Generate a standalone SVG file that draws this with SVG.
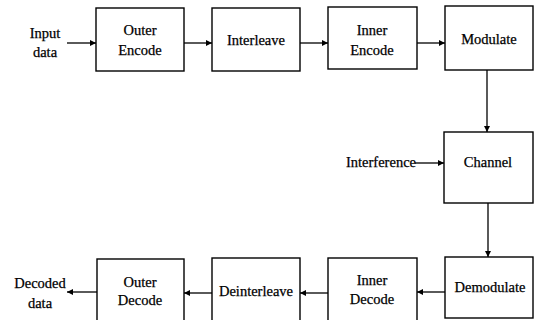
<svg xmlns="http://www.w3.org/2000/svg" width="535" height="320" viewBox="0 0 535 320">
<style>
.box{fill:#fff;stroke:#000;stroke-width:1.4}
.t{font-family:"Liberation Serif","Times New Roman",serif;font-size:14.5px;fill:#000;stroke:#000;stroke-width:0.25;text-anchor:middle}
.c{stroke:#000;stroke-width:1.3;fill:none;marker-end:url(#ah)}
</style>
<defs>
<marker id="ah" viewBox="0 0 10 10" refX="10" refY="5" markerWidth="7" markerHeight="6" markerUnits="userSpaceOnUse" orient="auto">
<path d="M0,0 L10,5 L0,10 z" fill="#000"/>
</marker>
</defs>
<rect width="535" height="320" fill="#fff"/>
<g id="input"><text class="t" x="45" y="38">Input</text><text class="t" x="45" y="57">data</text></g>
<g id="outer-encode"><rect class="box" x="96" y="8" width="88" height="63"/><text class="t" x="140" y="35">Outer</text><text class="t" x="140" y="55">Encode</text></g>
<g id="interleave"><rect class="box" x="212" y="8" width="88" height="63"/><text class="t" x="256" y="45">Interleave</text></g>
<g id="inner-encode"><rect class="box" x="328" y="7" width="89" height="62"/><text class="t" x="372" y="35">Inner</text><text class="t" x="372" y="55">Encode</text></g>
<g id="modulate"><rect class="box" x="445" y="6" width="88" height="64"/><text class="t" x="489" y="44">Modulate</text></g>
<g id="interference"><text class="t" x="381" y="167">Interference</text></g>
<g id="channel"><rect class="box" x="444" y="132" width="89" height="71"/><text class="t" x="488" y="167">Channel</text></g>
<g id="demodulate"><rect class="box" x="445" y="257" width="88" height="61"/><text class="t" x="490" y="292">Demodulate</text></g>
<g id="inner-decode"><rect class="box" x="328" y="258" width="89" height="64"/><text class="t" x="372" y="285">Inner</text><text class="t" x="372" y="304">Decode</text></g>
<g id="deinterleave"><rect class="box" x="212" y="258" width="88" height="64"/><text class="t" x="256" y="296">Deinterleave</text></g>
<g id="outer-decode"><rect class="box" x="97" y="259" width="87" height="63"/><text class="t" x="140" y="287">Outer</text><text class="t" x="140" y="305">Decode</text></g>
<g id="decoded"><text class="t" x="40" y="288">Decoded</text><text class="t" x="40" y="308">data</text></g>
<g id="connectors">
<line class="c" x1="67" y1="43" x2="96" y2="43"/>
<line class="c" x1="184" y1="43" x2="212" y2="43"/>
<line class="c" x1="300" y1="43" x2="328" y2="43"/>
<line class="c" x1="417" y1="43" x2="445" y2="43"/>
<line class="c" x1="487" y1="70" x2="487" y2="132"/>
<line class="c" x1="415" y1="163" x2="444" y2="163"/>
<line class="c" x1="488" y1="203" x2="488" y2="257"/>
<line class="c" x1="445" y1="292" x2="417" y2="292"/>
<line class="c" x1="328" y1="293" x2="300" y2="293"/>
<line class="c" x1="212" y1="293" x2="184" y2="293"/>
<line class="c" x1="97" y1="292" x2="67" y2="292"/>
</g>
</svg>
